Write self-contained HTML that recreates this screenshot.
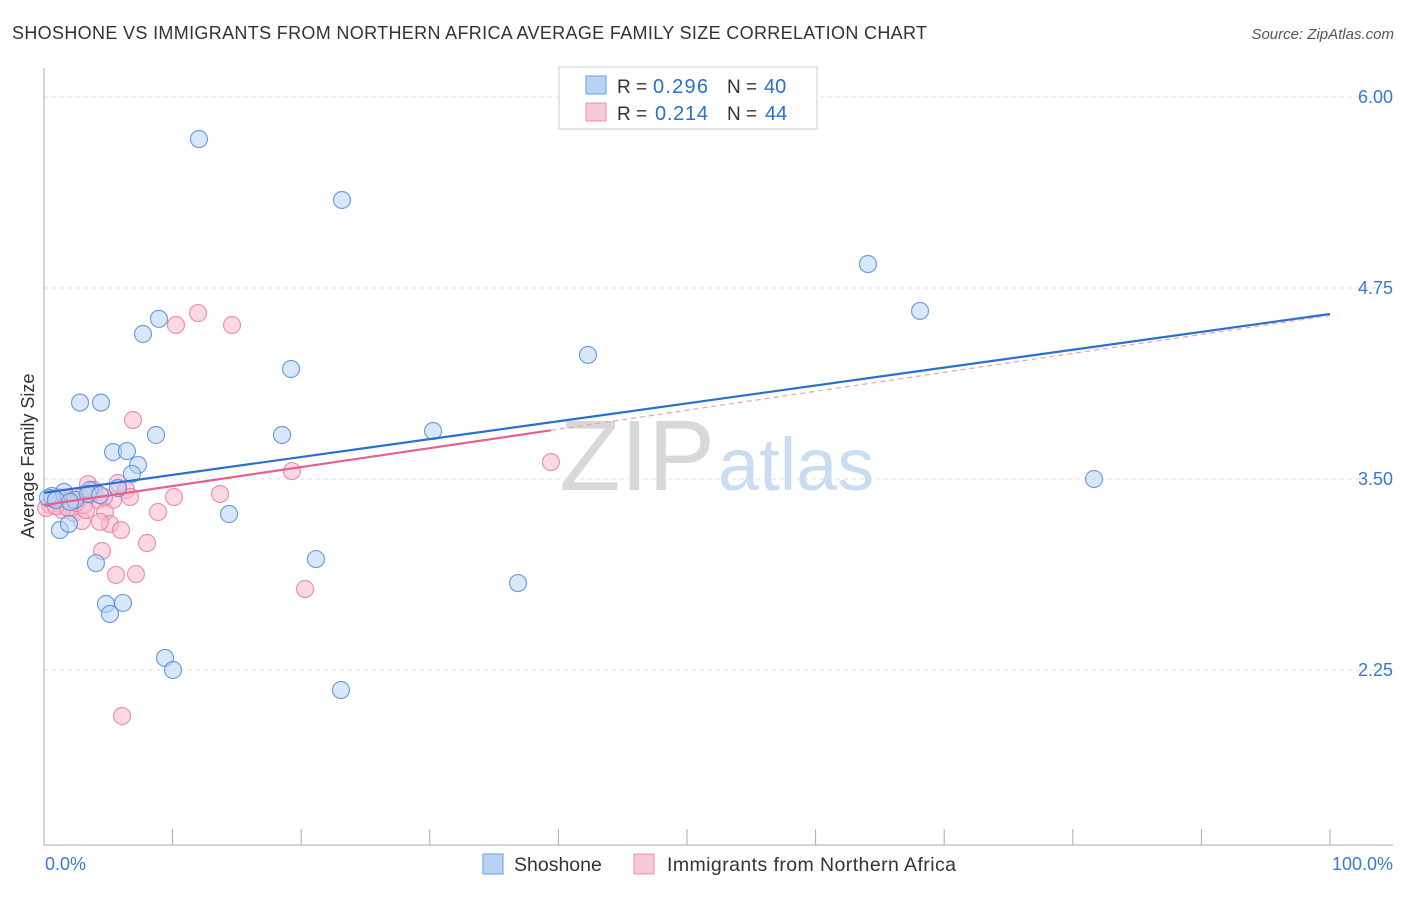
<!DOCTYPE html>
<html><head><meta charset="utf-8"><style>
body{margin:0;background:#fff;font-family:"Liberation Sans",sans-serif;}
svg text{font-family:"Liberation Sans",sans-serif;}
</style></head><body>
<svg id="chart" width="1406" height="892">
<text x="12" y="39" font-size="18" fill="#333" textLength="915">SHOSHONE VS IMMIGRANTS FROM NORTHERN AFRICA AVERAGE FAMILY SIZE CORRELATION CHART</text>
<text x="1394" y="39" font-size="15" fill="#555" font-style="italic" text-anchor="end">Source: ZipAtlas.com</text>
<text x="715" y="490" font-size="100" fill="#d8d8d8" font-family="Liberation Serif" text-anchor="end">ZIP</text>
<text x="718" y="490" font-size="74" fill="#c9dcf2">atlas</text>
<g id="grid"></g>
<g id="axes"></g>
<g id="marks"></g>
<text transform="translate(34,456) rotate(-90)" font-size="18" fill="#333" text-anchor="middle">Average Family Size</text>
<text x="45" y="870" font-size="18" fill="#3a78d4">0.0%</text>
<text x="1393" y="870" font-size="18" fill="#3a78d4" text-anchor="end">100.0%</text>
<g>
<rect x="559" y="67" width="258" height="62" fill="#fff" stroke="#ccc"/>
<rect x="586" y="76" width="20" height="18" fill="#b8d4f5" stroke="#6a9ee0"/>
<text x="617" y="93" font-size="19" fill="#333">R =</text>
<text x="653" y="93" font-size="20" fill="#2a6fd0" textLength="55">0.296</text>
<text x="727" y="93" font-size="19" fill="#333">N =</text>
<text x="764" y="93" font-size="20" fill="#2a6fd0">40</text>
<rect x="586" y="103" width="20" height="18" fill="#f9c8d6" stroke="#e890aa"/>
<text x="617" y="120" font-size="19" fill="#333">R =</text>
<text x="655" y="120" font-size="20" fill="#2a6fd0" textLength="53">0.214</text>
<text x="727" y="120" font-size="19" fill="#333">N =</text>
<text x="765" y="120" font-size="20" fill="#2a6fd0">44</text>
</g>
<g>
<rect x="483" y="854" width="20" height="20" fill="#b8d4f5" stroke="#6a9ee0"/>
<text x="514" y="871" font-size="19.5" fill="#333">Shoshone</text>
<rect x="634" y="854" width="20" height="20" fill="#f9c8d6" stroke="#e890aa"/>
<text x="667" y="871" font-size="19.5" fill="#333" textLength="289">Immigrants from Northern Africa</text>
</g>
</svg>
<script>
const yTicks=[6.00,4.75,3.50,2.25];
const yTickLabels=["6.00","4.75","3.50","2.25"];
const blueX=[12.05,23.17,64.07,68.12,8.94,7.70,42.30,19.21,2.80,4.43,8.71,18.51,30.25,5.37,6.45,7.31,6.84,81.65,5.75,3.58,1.56,0.62,0.31,2.41,1.24,1.94,14.39,4.04,21.15,36.86,4.82,6.14,5.13,9.41,10.03,23.09,3.42,0.93,2.02,4.35];
const blueY=[5.725,5.326,4.907,4.600,4.548,4.449,4.312,4.220,4.000,4.000,3.788,3.788,3.814,3.676,3.683,3.592,3.533,3.50,3.441,3.428,3.415,3.389,3.376,3.363,3.166,3.206,3.271,2.950,2.976,2.819,2.682,2.689,2.617,2.329,2.250,2.119,3.402,3.363,3.350,3.395];
const pinkX=[11.98,10.26,14.62,6.92,19.28,39.42,5.75,3.42,6.38,13.69,10.11,6.69,3.58,2.80,2.02,1.24,0.47,0.16,5.37,4.20,8.86,4.74,2.33,1.40,5.13,4.35,2.95,5.99,8.01,4.51,5.60,7.15,20.30,6.07,0.93,1.71,3.89,0.62,3.11,1.87,2.49,1.09,4.67,3.27];
const pinkY=[4.586,4.508,4.508,3.886,3.552,3.611,3.474,3.467,3.428,3.402,3.382,3.382,3.395,3.376,3.363,3.350,3.330,3.310,3.363,3.363,3.284,3.284,3.277,3.297,3.206,3.219,3.225,3.166,3.081,3.029,2.872,2.878,2.780,1.949,3.323,3.376,3.428,3.376,3.330,3.310,3.343,3.382,3.382,3.297];
const blueTrend=[3.41,4.58];
const pinkTrend=[3.33,4.57];
const NS="http://www.w3.org/2000/svg";
const X0=44,X1=1330,Y6=97,PPU=152.8;
function sx(v){return X0+(X1-X0)*v/100;}
function sy(v){return Y6+(6-v)*PPU;}
function mk(tag,attrs,parent){const e=document.createElementNS(NS,tag);for(const k in attrs)e.setAttribute(k,attrs[k]);parent.appendChild(e);return e;}
const grid=document.getElementById('grid'),axes=document.getElementById('axes'),marks=document.getElementById('marks');
yTicks.forEach((t,i)=>{
  const l=mk('line',{x1:44,x2:1393,y1:sy(t),y2:sy(t),stroke:'#ddd','stroke-dasharray':'4,4'},grid);
  
  
  const tx=mk('text',{x:1393,y:sy(t)+6,'font-size':18,fill:'#3a78d4','text-anchor':'end'},grid);
  tx.textContent=yTickLabels[i];
  
  
});
const xa=mk('line',{x1:44,x2:1393,y1:845,y2:845,stroke:'#aaa'},axes);


const ya=mk('line',{x1:44,x2:44,y1:68,y2:845,stroke:'#aaa'},axes);


for(let i=0;i<=10;i++){
  const t=mk('line',{x1:sx(i*10),x2:sx(i*10),y1:829,y2:845,stroke:'#aaa'},axes);
  
  
}
function pts(xs,ys,fill,stroke,name){
  xs.forEach((x,i)=>{
    const c=mk('circle',{cx:sx(x),cy:sy(ys[i]),r:8.5,fill:fill,'fill-opacity':0.55,stroke:stroke,'stroke-opacity':0.8,'stroke-width':1.2},marks);
    
    
  });
}
pts(pinkX,pinkY,'#f7b8cb','#e57c9c','pink-point');
pts(blueX,blueY,'#b8d4f5','#4f8ad8','blue-point');
const bl=mk('line',{x1:sx(0),y1:sy(blueTrend[0]),x2:sx(100),y2:sy(blueTrend[1]),stroke:'#2a6fd0','stroke-width':2.2},marks);


const pmax=Math.max(...pinkX);
const pAt=v=>pinkTrend[0]+(pinkTrend[1]-pinkTrend[0])*v/100;
const pl=mk('line',{x1:sx(0),y1:sy(pAt(0)),x2:sx(pmax),y2:sy(pAt(pmax)),stroke:'#e8608a','stroke-width':2.2},marks);


const pd=mk('line',{x1:sx(pmax),y1:sy(pAt(pmax)),x2:sx(100),y2:sy(pAt(100)),stroke:'#e8a0b8','stroke-width':1.2,'stroke-dasharray':'5,4'},marks);


</script>
</body></html>
